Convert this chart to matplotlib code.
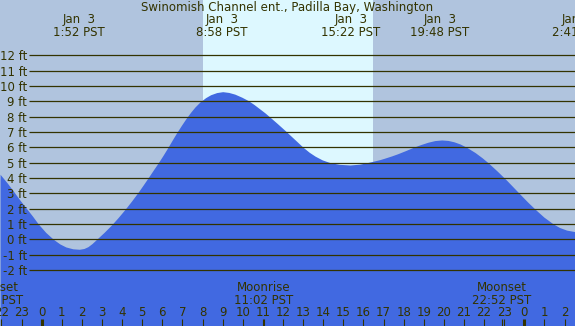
import matplotlib
matplotlib.use('Agg')
import matplotlib.pyplot as plt

# tide heights (hours from midnight Jan 3, feet)
hours = [-2.07, -1.7, -1.33, -1.05, -0.75, -0.45, -0.17, 0.2, 0.58, 0.9,
         1.2, 1.55, 1.87, 2.1, 2.3, 2.5, 2.73, 3.1, 3.48, 3.8, 4.14, 4.47,
         4.80, 5.05, 5.30, 5.55, 5.80, 6.03, 6.26, 6.48, 6.71, 6.94, 7.16,
         7.4, 7.62, 7.87, 8.15, 8.4, 8.7, 9.0, 9.3, 9.6, 9.95, 10.27, 10.55,
         10.8, 11.1, 11.35, 11.7, 12.1, 12.55, 13.0, 13.3, 13.6, 13.95, 14.34,
         14.8, 15.33, 15.8, 16.08, 16.45, 16.82, 17.07, 17.4, 17.7, 18.1,
         18.48, 18.85, 19.2, 19.55, 19.89, 20.2, 20.5, 20.8, 21.13, 21.55,
         21.9, 22.21, 22.65, 23.12, 23.45, 23.78, 24.15, 24.53, 24.97, 25.44,
         25.75, 26.1, 26.52]
heights = [4.24, 3.65, 3.0, 2.5, 2.0, 1.5, 1.0, 0.45, 0.0, -0.3,
           -0.5, -0.62, -0.65, -0.6, -0.48, -0.28, 0.0, 0.45, 0.95, 1.42, 1.95, 2.5,
           3.08, 3.55, 4.03, 4.52, 5.0, 5.47, 5.96, 6.45, 6.95, 7.42, 7.85,
           8.28, 8.63, 8.96, 9.24, 9.43, 9.57, 9.63, 9.58, 9.47, 9.27, 9.05, 8.8,
           8.55, 8.25, 7.97, 7.57, 7.1, 6.55, 6.0, 5.68, 5.42, 5.18, 5.0,
           4.89, 4.85, 4.9, 4.97, 5.08, 5.2, 5.3, 5.44, 5.58, 5.79,
           6.0, 6.18, 6.33, 6.44, 6.48, 6.45, 6.36, 6.22, 6.0, 5.66,
           5.32, 4.98, 4.45, 3.85, 3.4, 2.95, 2.45, 1.97, 1.45, 1.0,
           0.77, 0.6, 0.5]

# high / low tide labels
event_hours = [1.867, 8.967, 15.367, 19.8, 26.683]
event_dates = ['Jan  3', 'Jan  3', 'Jan  3', 'Jan  3', 'Jan  4']
event_times = ['1:52 PST', '8:58 PST', '15:22 PST', '19:48 PST', '2:41 PST']

# moon events
moon_hours = [-2.37, 11.033, 22.867]
moon_names = ['Moonset', 'Moonrise', 'Moonset']
moon_times = ['21:38 PST', '11:02 PST', '22:52 PST']

sunrise, sunset = 8.02, 16.47
ft_levels = list(range(-2, 13))
tick_hours = list(range(-2, 27))
tick_labels = [str(h % 24) for h in tick_hours]

W, H = 575, 326
X0, PXH = 41.7, 20.11      # pixel of hour 0, pixels per hour
Y0, PXF = 239.3, 15.33     # pixel of 0 ft, pixels per foot


def xpx(p):
    return (p - X0) / PXH


def ypx(p):
    return (Y0 - p) / PXF


night = '#b0c4de'
day = '#ddf8ff'
water = '#4169e1'
ink = '#333300'

fig = plt.figure(figsize=(W / 100, H / 100), dpi=100)
ax = fig.add_axes([0, 0, 1, 1])
ax.set_xlim(xpx(0), xpx(W))
ax.set_ylim(ypx(H), ypx(0))
ax.axis('off')
ax.set_facecolor(night)
fig.patch.set_facecolor(night)

ax.axvspan(sunrise, sunset, color=day, lw=0, zorder=1)
ax.fill_between(hours, heights, ypx(H), color=water, lw=0, zorder=2)
ax.hlines(ft_levels, xpx(29), xpx(W), color=ink, lw=0.9, zorder=3)

fs = 8.5
for f in ft_levels:
    ax.text(xpx(27), f, f'{f} ft', ha='right', va='center_baseline',
            fontsize=fs, color=ink, zorder=4)

ax.text(xpx(W / 2), ypx(11), 'Swinomish Channel ent., Padilla Bay, Washington',
        ha='center', va='baseline', fontsize=fs, color=ink, zorder=4)
for h, d, t in zip(event_hours, event_dates, event_times):
    ax.text(h, ypx(23), d, ha='center', va='baseline', fontsize=fs, color=ink, zorder=4)
    ax.text(h, ypx(35.5), t, ha='center', va='baseline', fontsize=fs, color=ink, zorder=4)

for h, n, t in zip(moon_hours, moon_names, moon_times):
    ax.text(h, ypx(291), n, ha='center', va='baseline', fontsize=fs, color=ink, zorder=4)
    ax.text(h, ypx(303.5), t, ha='center', va='baseline', fontsize=fs, color=ink, zorder=4)

for h, lab in zip(tick_hours, tick_labels):
    ax.text(h, ypx(316), lab, ha='center', va='baseline', fontsize=fs, color=ink, zorder=4)
    lw = 2.2 if h % 24 == 0 else 0.8
    ax.vlines(h, ypx(H), ypx(319), color=ink, lw=lw, zorder=4)
ax.vlines(moon_hours, ypx(H), ypx(319), color=ink, lw=0.8, zorder=4)

fig.savefig('out.png', dpi=100, facecolor=night)
